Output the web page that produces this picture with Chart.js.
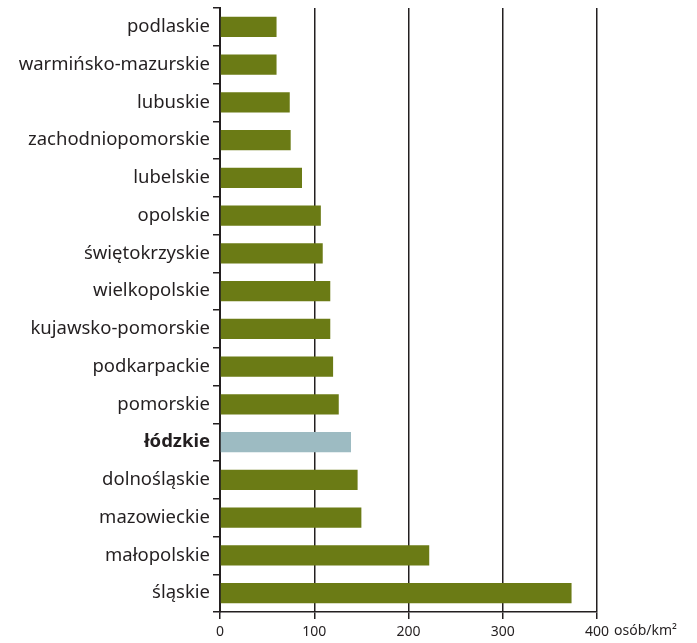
<!DOCTYPE html>
<html>
<head>
<meta charset="utf-8">
<script src="https://cdn.jsdelivr.net/npm/chart.js@4"></script>
<style>
  html, body { margin: 0; padding: 0; background: #fff; }
  #wrap { width: 697px; height: 643px; }
</style>
</head>
<body>
<div id="wrap"><canvas id="mycanvas" width="697" height="643"></canvas></div>
<script>
// województwa, gęstość zaludnienia (osób/km2)
var regions = ['podlaskie', 'warmińsko-mazurskie', 'lubuskie', 'zachodniopomorskie', 'lubelskie',
  'opolskie', 'świętokrzyskie', 'wielkopolskie', 'kujawsko-pomorskie', 'podkarpackie',
  'pomorskie', 'łódzkie', 'dolnośląskie', 'mazowieckie', 'małopolskie', 'śląskie'];
var density = [60, 60, 74, 75, 87, 107, 109, 117, 117, 120, 126, 139, 146, 150, 222, 373];
var xTicks = [0, 100, 200, 300, 400];
var unit = 'osób/km²';
var highlight = 'łódzkie';

var dark = '#231f20';
var olive = '#6b7b15';
var blue = '#9dbbc2';

var colors = [];
for (var i in regions) {
  colors.push(regions[i] == highlight ? blue : olive);
}

// jednostka przy ostatniej wartosci osi
var unitLabel = {
  id: 'unitLabel',
  afterDraw: function(chart) {
    var x = chart.scales.x;
    var c = chart.ctx;
    c.save();
    c.font = '14px "Noto Sans"';
    var px = x.getPixelForValue(400) + c.measureText('400').width / 2 + 5;
    c.fillStyle = dark;
    c.textBaseline = 'top';
    c.textAlign = 'left';
    c.fillText(unit, px, x.top + 7 + 5);
    c.restore();
  }
};

var ctx = document.getElementById('mycanvas');
new Chart(ctx, {
  type: 'bar',
  data: {
    labels: regions,
    datasets: [{
      data: density,
      backgroundColor: colors,
      borderWidth: 0,
      categoryPercentage: 1,
      barPercentage: 0.53
    }]
  },
  options: {
    indexAxis: 'y',
    responsive: false,
    animation: false,
    events: [],
    layout: { padding: { left: 0, right: 100, top: 8, bottom: 0 } },
    plugins: { legend: { display: false }, tooltip: { enabled: false } },
    scales: {
      x: {
        min: 0,
        max: 400,
        afterBuildTicks: function(scale) {
          scale.ticks = xTicks.map(function(v) { return { value: v }; });
        },
        afterFit: function(scale) { scale.height = 31; },
        grid: { color: dark, lineWidth: 1.5, drawTicks: true, tickLength: 7, tickColor: dark },
        border: { display: true, color: dark, width: 1.5 },
        ticks: { color: dark, font: { family: '"Noto Sans"', size: 14 }, padding: 5, maxRotation: 0 }
      },
      y: {
        afterFit: function(scale) {
          scale.width = 220;
          scale.paddingTop = 0;
          scale.paddingBottom = 0;
        },
        grid: { offset: true, drawOnChartArea: false, drawTicks: true, tickLength: 7, color: dark, lineWidth: 1.5 },
        border: { display: true, color: dark, width: 2 },
        ticks: {
          color: dark,
          padding: 3,
          font: function(c) {
            return {
              family: '"Noto Sans"',
              size: 18.5,
              weight: (c.tick && c.tick.label == highlight) ? 'bold' : 'normal'
            };
          }
        }
      }
    }
  },
  plugins: [unitLabel]
});
</script>
</body>
</html>
